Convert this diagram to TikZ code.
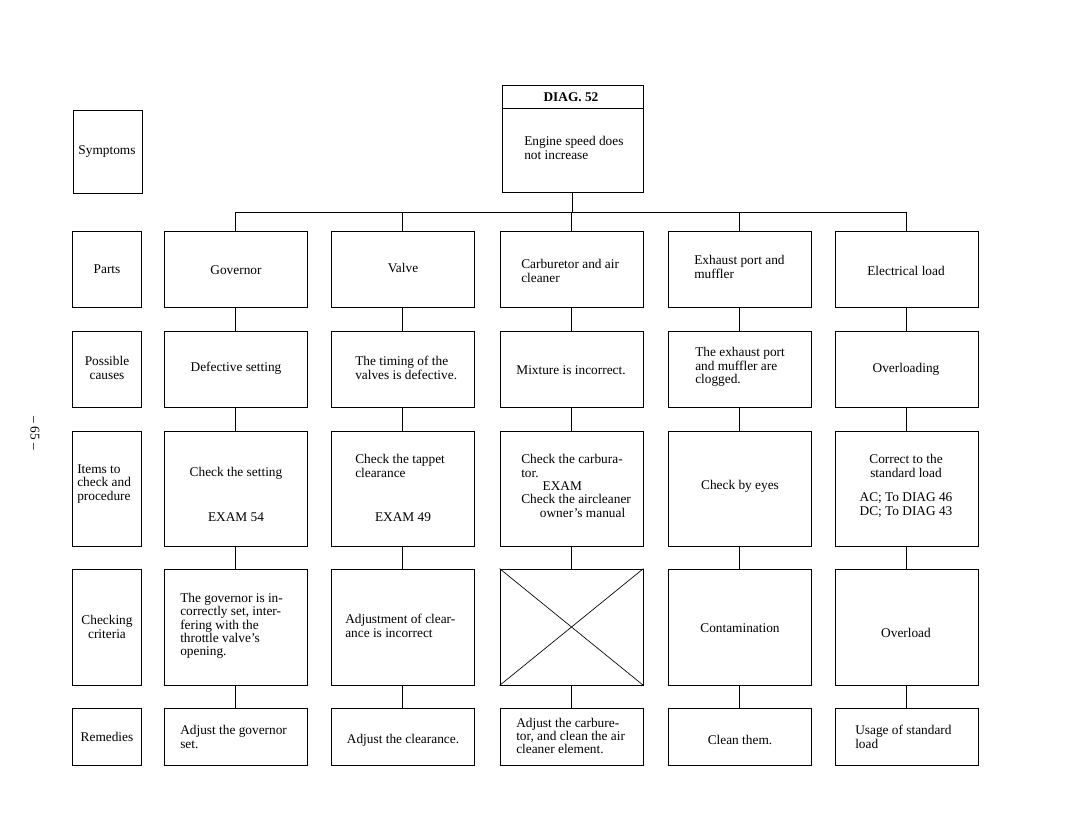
\documentclass[tikz,border=0pt]{standalone}
\usepackage{fontspec}
\setmainfont{Liberation Serif}
\usetikzlibrary{fit}
\begin{document}
\begin{tikzpicture}[x=0.75pt,y=-0.75pt,
  box/.style={draw, line width=0.6pt, inner sep=0pt},
  link/.style={line width=0.6pt},
  txt/.style={font=\fontsize{10}{10}\selectfont, inner sep=0pt, align=center},
  ltxt/.style={font=\fontsize{10}{10}\selectfont, inner sep=0pt, align=left, anchor=west}]
\useasboundingbox (0,0) rectangle (1080,833);
% label column
\node[box, fit={(73,110) (142,193)}] (sym) {};
\node[box, fit={(72,231) (141,307)}] (lparts) {};
\node[box, fit={(72,331) (141,407)}] (lcauses) {};
\node[box, fit={(72,431) (141,546)}] (litems) {};
\node[box, fit={(72,569) (141,685)}] (lcrit) {};
\node[box, fit={(72,708) (141,765)}] (lrem) {};
\node[txt] (tsym) at (107,152) {Symptoms};
\node[txt] (tparts) at (107,269) {Parts};
\node[txt] (tcauses) at (107,368) {Possible\\causes};
\node[ltxt] (titems) at (77,484) {Items to\\check and\\procedure};
\node[txt] (tcrit) at (107,627) {Checking\\criteria};
\node[txt] (trem) at (107,737) {Remedies};
% diag box
\node[box, fit={(502,85) (643,192)}] (diag) {};
\coordinate (dl) at (502,108);
\coordinate (dr) at (643,108);
\draw[link] (dl) -- (dr);
\node[txt, font=\fontsize{10}{10}\selectfont\bfseries] (tdiag) at (571,97) {DIAG. 52};
\node[ltxt] (tsymp) at (524,148) {Engine speed does\\not increase};
% column boxes
\foreach \c/\l in {a/164, b/331, c/500, d/668, e/835}{
  \node[box, fit={(\l,231) (\l+143,307)}] (p\c) {};
  \node[box, fit={(\l,331) (\l+143,407)}] (k\c) {};
  \node[box, fit={(\l,431) (\l+143,546)}] (i\c) {};
  \node[box, fit={(\l,569) (\l+143,685)}] (r\c) {};
  \node[box, fit={(\l,708) (\l+143,765)}] (m\c) {};
  \draw[link] (p\c.south) -- (k\c.north);
  \draw[link] (k\c.south) -- (i\c.north);
  \draw[link] (i\c.south) -- (r\c.north);
  \draw[link] (r\c.south) -- (m\c.north);
}
% bus
\coordinate (bus) at (571,212);
\draw[link] (diag.south) -- (diag.south |- bus);
\draw[link] (pa.north) -- (pa.north |- bus) -- (pe.north |- bus) -- (pe.north);
\draw[link] (pb.north) -- (pb.north |- bus);
\draw[link] (pc.north) -- (pc.north |- bus);
\draw[link] (pd.north) -- (pd.north |- bus);
% crossed box
\draw[line width=0.5pt] (rc.north west) -- (rc.south east);
\draw[line width=0.5pt] (rc.north east) -- (rc.south west);
% column a
\node[txt] (ta1) at (236,270) {Governor};
\node[txt] (ta2) at (236,368) {Defective setting};
\node[txt] (ta3) at (236,473) {Check the setting};
\node[txt] (ta3b) at (236,517) {EXAM 54};
\node[ltxt] (ta4) at (180,626) {The governor is in-\\correctly set, inter-\\fering with the\\throttle valve's\\opening.};
\node[ltxt] (ta5) at (180,737) {Adjust the governor\\set.};
% column b
\node[txt] (tb1) at (403,268) {Valve};
\node[ltxt] (tb2) at (355,368) {The timing of the\\valves is defective.};
\node[ltxt] (tb3) at (355,466) {Check the tappet\\clearance};
\node[txt] (tb3b) at (403,517) {EXAM 49};
\node[ltxt] (tb4) at (345,626) {Adjustment of clear-\\ance is incorrect};
\node[txt] (tb5) at (403,740) {Adjust the clearance.};
% column c
\node[ltxt] (tc1) at (521,271) {Carburetor and air\\cleaner};
\node[txt] (tc2) at (571,370) {Mixture is incorrect.};
\node[ltxt] (tc3) at (521,486) {Check the carbura-\\tor.\\\hspace*{1.6em}EXAM\\Check the aircleaner\\\hspace*{1.4em}owner's manual};
\node[ltxt] (tc5) at (516,736) {Adjust the carbure-\\tor, and clean the air\\cleaner element.};
% column d
\node[ltxt] (td1) at (694,267) {Exhaust port and\\muffler};
\node[ltxt] (td2) at (695,367) {The exhaust port\\and muffler are\\clogged.};
\node[txt] (td3) at (740,486) {Check by eyes};
\node[txt] (td4) at (740,628) {Contamination};
\node[txt] (td5) at (740,740) {Clean them.};
% column e
\node[txt] (te1) at (906,271) {Electrical load};
\node[txt] (te2) at (906,369) {Overloading};
\node[txt] (te3) at (906,466) {Correct to the\\standard load};
\node[txt] (te3b) at (906,505) {AC; To DIAG 46\\DC; To DIAG 43};
\node[txt] (te4) at (906,633) {Overload};
\node[ltxt] (te5) at (855,737) {Usage of standard\\load};
% page number
\node[txt, rotate=-90] (pg) at (35,433) {-- 65 --};
\end{tikzpicture}
\end{document}
